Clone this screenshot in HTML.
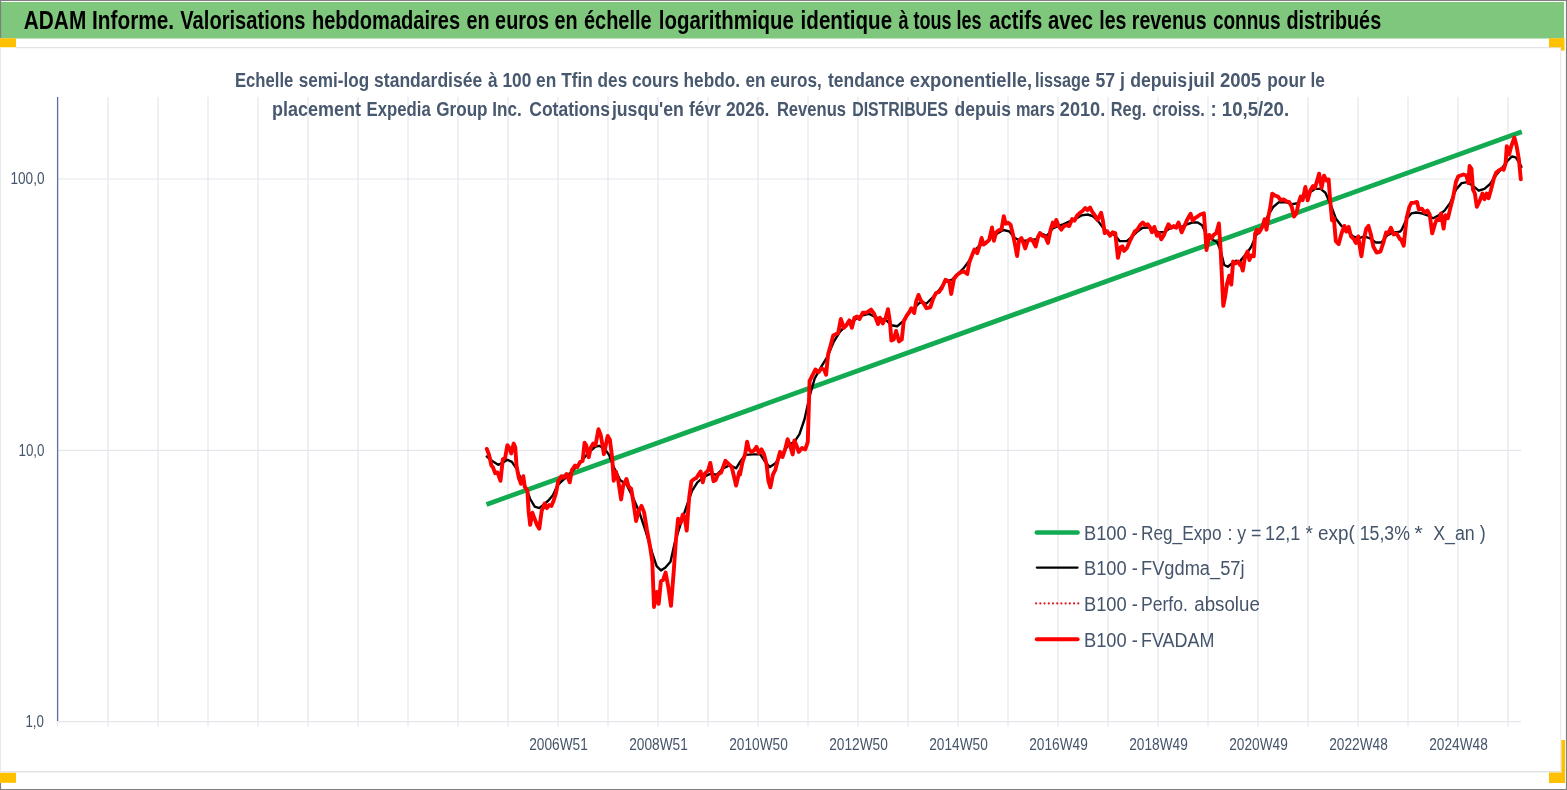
<!DOCTYPE html>
<html lang="fr">
<head>
<meta charset="utf-8">
<title>ADAM Informe - Expedia Group Inc.</title>
<style>
html,body{margin:0;padding:0;background:#fff;}
body{width:1567px;height:790px;overflow:hidden;font-family:"Liberation Sans", sans-serif;}
svg{display:block;}
text{font-family:"Liberation Sans", sans-serif;}
.hd{font-size:25px;font-weight:bold;fill:#000;}
.ct{font-size:19.5px;font-weight:bold;fill:#48586e;}
.ax{font-size:16px;fill:#44546a;}
.axx{font-size:16px;fill:#44546a;}
.lg{font-size:20px;fill:#44546a;}
</style>
</head>
<body>
<svg width="1567" height="790" viewBox="0 0 1567 790">
<rect x="0" y="0" width="1567" height="790" fill="#fff"/>
<rect x="1" y="2" width="1563" height="36.5" fill="#7fc77d"/>
<text class="hd" y="28.8"><tspan x="23.8" textLength="150.3" lengthAdjust="spacingAndGlyphs">ADAM Informe.</tspan> <tspan x="180.3" textLength="125.2" lengthAdjust="spacingAndGlyphs">Valorisations</tspan> <tspan x="311.9" textLength="148.3" lengthAdjust="spacingAndGlyphs">hebdomadaires</tspan> <tspan x="466.5" textLength="111.2" lengthAdjust="spacingAndGlyphs">en euros en</tspan> <tspan x="583.9" textLength="67.8" lengthAdjust="spacingAndGlyphs">échelle</tspan> <tspan x="658.8" textLength="135.1" lengthAdjust="spacingAndGlyphs">logarithmique</tspan> <tspan x="800.6" textLength="91.5" lengthAdjust="spacingAndGlyphs">identique</tspan> <tspan x="898.4" textLength="83.1" lengthAdjust="spacingAndGlyphs">à tous les</tspan> <tspan x="989.3" textLength="103.7" lengthAdjust="spacingAndGlyphs">actifs avec</tspan> <tspan x="1099.3" textLength="107.3" lengthAdjust="spacingAndGlyphs">les revenus</tspan> <tspan x="1212.9" textLength="67.7" lengthAdjust="spacingAndGlyphs">connus</tspan> <tspan x="1286.4" textLength="94.8" lengthAdjust="spacingAndGlyphs">distribués</tspan></text>
<path d="M16,47.6 H1560 M0,771.8 H1561" fill="none" stroke="#e2e3e7" stroke-width="1.4"/>
<line x1="1560.6" y1="47" x2="1560.6" y2="772" stroke="#eaebee" stroke-width="1.3"/>
<rect x="0" y="38.3" width="16" height="9" fill="#ffc000"/>
<path d="M1549,38.3 H1564.5 V50.5 H1561 V47.3 H1549 Z" fill="#ffc000"/>
<rect x="0" y="772.8" width="16" height="10" fill="#ffc000"/>
<path d="M1561.4,740 H1565 V783 H1549 V772.6 H1561.4 Z" fill="#ffc000"/>
<path d="M0.5,38 V0.5 H1566.5 V789.5 H0.5 V783" fill="none" stroke="#7f7f7f" stroke-width="1.2"/>
<line x1="0.5" y1="48" x2="0.5" y2="772" stroke="#e8e8e8" stroke-width="1"/>
<path d="M108.0,97 V726.5 M158.0,97 V726.5 M208.0,97 V726.5 M258.0,97 V726.5 M308.0,97 V726.5 M358.0,97 V726.5 M408.0,97 V726.5 M458.0,97 V726.5 M508.0,97 V726.5 M558.0,97 V726.5 M608.0,97 V726.5 M658.0,97 V726.5 M708.0,97 V726.5 M758.0,97 V726.5 M808.0,97 V726.5 M858.0,97 V726.5 M908.0,97 V726.5 M958.0,97 V726.5 M1008.0,97 V726.5 M1058.0,97 V726.5 M1108.0,97 V726.5 M1158.0,97 V726.5 M1208.0,97 V726.5 M1258.0,97 V726.5 M1308.0,97 V726.5 M1358.0,97 V726.5 M1408.0,97 V726.5 M1458.0,97 V726.5 M1508.0,97 V726.5 M57.5,179 H1521 M57.5,450.3 H1521 M57.5,721.7 H1521" fill="none" stroke="#e4e6eb" stroke-width="1.2"/>
<line x1="57.6" y1="722" x2="57.6" y2="726.5" stroke="#e4e6eb" stroke-width="1.2"/>
<line x1="57.6" y1="97" x2="57.6" y2="721" stroke="#5570a3" stroke-width="1.3"/>
<text class="ct" y="86.6"><tspan x="235.0" textLength="58.3" lengthAdjust="spacingAndGlyphs">Echelle</tspan> <tspan x="298.8" textLength="70.4" lengthAdjust="spacingAndGlyphs">semi-log</tspan> <tspan x="374.1" textLength="108.1" lengthAdjust="spacingAndGlyphs">standardisée</tspan> <tspan x="488.0" textLength="68.3" lengthAdjust="spacingAndGlyphs">à 100 en</tspan> <tspan x="561.3" textLength="65.9" lengthAdjust="spacingAndGlyphs">Tfin des</tspan> <tspan x="631.9" textLength="108.1" lengthAdjust="spacingAndGlyphs">cours hebdo.</tspan> <tspan x="745.5" textLength="76.2" lengthAdjust="spacingAndGlyphs">en euros,</tspan> <tspan x="828.0" textLength="76.7" lengthAdjust="spacingAndGlyphs">tendance</tspan> <tspan x="909.7" textLength="122.4" lengthAdjust="spacingAndGlyphs">exponentielle,</tspan> <tspan x="1035.0" textLength="55.0" lengthAdjust="spacingAndGlyphs">lissage</tspan> <tspan x="1095.5" textLength="29.5" lengthAdjust="spacingAndGlyphs">57 j</tspan> <tspan x="1130.2" textLength="56.8" lengthAdjust="spacingAndGlyphs">depuis</tspan> <tspan x="1188.2" textLength="72.9" lengthAdjust="spacingAndGlyphs">juil 2005</tspan> <tspan x="1267.3" textLength="57.6" lengthAdjust="spacingAndGlyphs">pour le</tspan></text>
<text class="ct" y="115.8"><tspan x="272.0" textLength="89.0" lengthAdjust="spacingAndGlyphs">placement</tspan> <tspan x="366.5" textLength="64.2" lengthAdjust="spacingAndGlyphs">Expedia</tspan> <tspan x="436.2" textLength="85.6" lengthAdjust="spacingAndGlyphs">Group Inc.</tspan> <tspan x="529.3" textLength="80.6" lengthAdjust="spacingAndGlyphs">Cotations</tspan> <tspan x="611.9" textLength="72.0" lengthAdjust="spacingAndGlyphs">jusqu'en</tspan> <tspan x="688.9" textLength="32.0" lengthAdjust="spacingAndGlyphs">févr</tspan> <tspan x="725.9" textLength="43.5" lengthAdjust="spacingAndGlyphs">2026.</tspan> <tspan x="776.9" textLength="69.1" lengthAdjust="spacingAndGlyphs">Revenus</tspan> <tspan x="852.2" textLength="96.0" lengthAdjust="spacingAndGlyphs">DISTRIBUES</tspan> <tspan x="954.6" textLength="56.3" lengthAdjust="spacingAndGlyphs">depuis</tspan> <tspan x="1015.9" textLength="38.9" lengthAdjust="spacingAndGlyphs">mars</tspan> <tspan x="1059.8" textLength="45.5" lengthAdjust="spacingAndGlyphs">2010.</tspan> <tspan x="1110.8" textLength="35.4" lengthAdjust="spacingAndGlyphs">Reg.</tspan> <tspan x="1152.4" textLength="52.5" lengthAdjust="spacingAndGlyphs">croiss.</tspan> <tspan x="1210.4" textLength="78.7" lengthAdjust="spacingAndGlyphs">: 10,5/20.</tspan></text>
<text class="ax" x="10.5" y="184.2" textLength="34" lengthAdjust="spacingAndGlyphs">100,0</text>
<text class="ax" x="18.5" y="455.5" textLength="26" lengthAdjust="spacingAndGlyphs">10,0</text>
<text class="ax" x="25.4" y="726.9" textLength="18.5" lengthAdjust="spacingAndGlyphs">1,0</text>
<text class="axx" x="529.2" y="749.8" textLength="58.6" lengthAdjust="spacingAndGlyphs">2006W51</text>
<text class="axx" x="629.2" y="749.8" textLength="58.6" lengthAdjust="spacingAndGlyphs">2008W51</text>
<text class="axx" x="729.2" y="749.8" textLength="58.6" lengthAdjust="spacingAndGlyphs">2010W50</text>
<text class="axx" x="829.2" y="749.8" textLength="58.6" lengthAdjust="spacingAndGlyphs">2012W50</text>
<text class="axx" x="929.2" y="749.8" textLength="58.6" lengthAdjust="spacingAndGlyphs">2014W50</text>
<text class="axx" x="1029.2" y="749.8" textLength="58.6" lengthAdjust="spacingAndGlyphs">2016W49</text>
<text class="axx" x="1129.2" y="749.8" textLength="58.6" lengthAdjust="spacingAndGlyphs">2018W49</text>
<text class="axx" x="1229.2" y="749.8" textLength="58.6" lengthAdjust="spacingAndGlyphs">2020W49</text>
<text class="axx" x="1329.2" y="749.8" textLength="58.6" lengthAdjust="spacingAndGlyphs">2022W48</text>
<text class="axx" x="1429.2" y="749.8" textLength="58.6" lengthAdjust="spacingAndGlyphs">2024W48</text>
<line x1="486.5" y1="504.5" x2="1521.8" y2="131.8" stroke="#12ab52" stroke-width="4.8"/>
<path d="M486.8,456.5 L492.2,461.0 L498.2,464.8 L502.8,462.6 L507.4,459.8 L511.9,461.8 L516.5,468.6 L521.0,479.3 L525.6,486.9 L530.2,499.0 L534.7,506.6 L539.3,508.1 L543.8,504.3 L548.4,500.5 L552.9,495.2 L557.5,485.3 L562.1,480.8 L566.6,477.0 L571.2,472.4 L577.3,465.6 L583.3,458.8 L589.4,451.9 L595.5,446.6 L599.3,445.8 L604.6,448.9 L609.2,455.0 L613.7,467.1 L618.3,476.2 L620.0,480.1 L626.5,484.4 L632.9,497.3 L639.4,512.4 L645.8,531.7 L652.3,553.2 L656.6,566.1 L660.9,570.4 L665.2,567.8 L670.5,561.8 L674.8,542.5 L680.2,525.3 L686.7,505.9 L692.0,490.9 L697.4,482.3 L703.9,476.9 L710.3,473.7 L716.8,474.7 L723.2,468.3 L729.7,465.1 L736.1,468.3 L740.0,462.0 L745.1,454.9 L752.7,454.4 L760.3,454.4 L765.3,462.0 L769.9,467.1 L775.4,463.3 L781.8,454.4 L788.1,445.6 L794.4,441.8 L799.5,434.2 L804.6,419.0 L809.6,396.2 L814.7,378.5 L821.0,367.1 L827.3,357.0 L833.7,341.8 L840.0,331.6 L846.3,325.3 L853.9,320.3 L861.5,315.7 L869.1,313.9 L876.7,317.7 L880.0,318.7 L885.7,319.6 L891.4,325.3 L897.1,326.3 L902.8,321.5 L908.5,313.0 L914.2,308.2 L919.9,302.5 L926.5,303.5 L933.2,296.8 L938.9,290.2 L945.5,281.6 L952.1,279.7 L957.8,274.0 L963.5,268.4 L969.2,260.8 L974.9,250.3 L980.6,244.6 L986.3,241.8 L992.0,237.0 L997.7,233.2 L1003.4,230.0 L1009.1,231.3 L1014.8,238.0 L1020.5,240.8 L1026.2,240.8 L1031.9,239.9 L1037.6,238.9 L1040.0,233.1 L1047.1,235.8 L1052.4,228.7 L1057.7,226.1 L1063.0,224.3 L1069.2,221.6 L1075.4,219.0 L1081.6,215.4 L1087.8,214.5 L1093.1,216.3 L1098.5,221.6 L1103.8,228.7 L1109.1,233.1 L1114.4,234.9 L1119.7,241.1 L1126.8,241.1 L1132.1,236.7 L1137.4,231.4 L1142.7,227.8 L1148.1,227.5 L1153.4,229.6 L1158.7,232.3 L1164.0,232.3 L1169.3,228.7 L1174.6,226.9 L1181.7,226.9 L1187.0,224.3 L1192.3,222.5 L1197.7,222.5 L1202.1,225.2 L1206.5,234.9 L1211.8,239.3 L1217.1,242.0 L1220.7,250.9 L1224.2,265.0 L1227.8,266.8 L1232.2,263.3 L1236.6,260.6 L1240.0,263.3 L1240.9,260.1 L1246.6,253.5 L1251.3,246.8 L1256.1,235.4 L1261.8,227.8 L1267.5,216.5 L1273.2,207.0 L1278.9,202.2 L1285.5,202.2 L1292.1,204.1 L1297.8,203.2 L1303.5,197.5 L1309.2,192.7 L1314.9,188.9 L1320.6,188.9 L1325.4,192.7 L1330.1,203.2 L1335.8,218.4 L1341.5,225.9 L1347.2,230.7 L1352.9,236.4 L1358.6,238.3 L1364.3,236.4 L1370.0,238.3 L1375.7,242.5 L1381.4,242.5 L1387.1,235.4 L1392.8,232.6 L1400.0,231.6 L1401.8,229.6 L1406.6,219.1 L1411.3,213.4 L1416.1,212.5 L1421.8,213.4 L1427.4,215.3 L1433.1,218.2 L1438.8,215.3 L1444.5,210.6 L1450.2,203.0 L1455.9,189.7 L1461.6,183.1 L1467.3,182.1 L1473.0,185.9 L1478.7,190.7 L1484.4,188.8 L1490.1,184.0 L1495.8,175.5 L1501.5,168.8 L1507.2,161.2 L1511.9,156.5 L1515.7,157.4 L1519.5,163.1 L1521.4,166.9" fill="none" stroke="#000" stroke-width="2.4" stroke-linejoin="round" stroke-linecap="round"/>
<path d="M486.8,448.9 L489.1,455.0 L491.4,465.6 L492.9,467.1 L495.2,473.2 L497.5,472.4 L500.5,480.8 L502.8,459.5 L505.1,458.0 L507.4,445.1 L509.6,448.1 L511.2,453.4 L513.7,443.6 L515.3,447.4 L516.5,465.6 L518.8,477.8 L521.0,483.8 L523.3,476.2 L524.8,486.9 L527.4,490.7 L528.6,511.2 L530.2,524.9 L532.4,512.7 L534.0,517.3 L537.0,524.9 L539.3,528.7 L541.6,511.2 L544.6,503.6 L546.9,508.1 L549.1,505.1 L551.4,505.9 L553.7,500.5 L556.0,492.9 L558.3,480.8 L561.3,476.2 L563.6,477.8 L566.6,474.0 L569.7,482.3 L571.9,470.2 L575.0,465.6 L577.3,467.1 L580.3,461.8 L582.6,461.0 L584.6,442.8 L586.4,445.8 L588.7,457.2 L590.9,447.4 L593.2,443.6 L595.5,445.1 L598.5,429.1 L600.8,435.2 L603.9,454.2 L607.7,436.0 L609.9,439.8 L612.2,458.0 L613.7,480.8 L616.0,471.7 L618.3,480.8 L621.1,499.5 L623.2,485.5 L626.5,479.0 L628.6,486.6 L631.2,488.7 L633.3,501.6 L636.1,521.0 L638.9,510.2 L641.5,505.9 L644.1,512.4 L646.9,529.6 L650.1,546.8 L652.3,561.8 L654.0,607.0 L656.6,591.9 L658.7,603.8 L660.9,581.2 L663.0,580.1 L665.6,572.6 L668.4,587.6 L671.0,605.9 L673.8,570.4 L675.9,540.3 L678.1,518.8 L680.6,523.1 L682.8,514.5 L684.5,516.7 L686.7,530.6 L689.2,497.3 L691.4,481.2 L694.2,479.0 L696.3,478.0 L698.5,474.7 L700.6,471.5 L702.8,482.3 L704.9,473.7 L708.2,470.4 L710.3,462.9 L713.5,481.2 L715.7,480.1 L717.8,474.7 L721.1,472.6 L725.4,460.8 L728.6,464.0 L731.8,467.2 L736.1,485.5 L739.4,471.5 L740.0,474.7 L742.5,462.0 L745.1,454.4 L747.1,441.8 L748.9,449.4 L751.4,451.9 L753.9,450.6 L756.5,446.8 L759.0,453.2 L761.5,449.4 L764.1,454.4 L766.6,464.6 L768.4,481.0 L770.4,487.3 L772.9,474.7 L775.4,469.6 L778.0,459.5 L780.0,451.9 L782.5,457.0 L785.1,449.4 L787.6,439.2 L790.1,445.6 L792.7,454.4 L794.4,440.5 L797.0,446.8 L798.7,451.9 L802.0,448.1 L805.3,449.4 L807.8,441.8 L809.6,381.0 L812.2,375.9 L815.4,369.6 L818.5,372.2 L821.5,368.4 L824.1,369.6 L826.1,374.7 L828.1,354.4 L830.6,345.6 L833.2,335.4 L835.7,334.2 L838.2,332.9 L840.8,319.0 L843.8,327.8 L846.3,325.3 L849.4,320.3 L851.9,327.8 L854.4,317.7 L857.0,316.5 L859.5,319.0 L862.8,312.7 L866.6,312.7 L871.1,309.6 L874.2,313.9 L878.0,324.1 L880.0,317.7 L882.8,323.4 L885.7,317.7 L888.0,309.2 L889.9,321.5 L891.4,340.5 L893.7,339.5 L896.1,331.0 L899.0,341.4 L901.8,339.5 L903.7,321.5 L906.6,315.8 L909.4,312.0 L911.3,308.2 L914.2,313.0 L916.1,301.6 L918.5,294.9 L920.8,300.6 L923.7,303.5 L926.5,308.2 L930.3,307.3 L933.2,298.7 L936.0,293.0 L938.9,292.1 L941.7,288.3 L945.5,279.7 L949.3,281.6 L951.2,294.0 L954.0,278.8 L956.9,275.0 L959.7,273.1 L963.5,271.2 L967.3,274.0 L969.2,262.7 L972.1,255.1 L974.4,249.4 L977.2,253.2 L979.7,245.6 L981.6,238.0 L983.5,244.6 L986.3,242.7 L989.2,239.9 L992.0,227.5 L993.9,240.8 L996.2,232.3 L998.7,230.4 L1001.5,229.4 L1003.8,216.1 L1005.7,223.7 L1008.2,222.8 L1010.6,224.7 L1012.9,234.2 L1015.2,245.6 L1017.1,256.0 L1019.0,240.8 L1021.4,238.0 L1023.3,242.7 L1025.2,248.4 L1027.7,240.8 L1030.4,238.9 L1032.8,240.8 L1035.7,246.5 L1038.0,237.0 L1040.0,233.1 L1042.7,235.8 L1045.3,236.7 L1048.0,242.9 L1050.6,229.6 L1052.8,222.5 L1054.5,226.1 L1056.3,219.9 L1058.6,226.1 L1061.3,229.6 L1063.9,226.1 L1066.6,225.2 L1069.2,226.1 L1072.2,219.0 L1074.5,220.7 L1077.2,215.4 L1079.9,212.8 L1082.5,211.0 L1085.2,208.0 L1087.5,210.1 L1090.0,207.5 L1092.3,211.9 L1094.9,215.4 L1097.6,219.9 L1101.1,212.8 L1102.9,220.7 L1104.7,233.1 L1107.3,231.4 L1110.0,235.8 L1112.6,232.3 L1115.3,233.1 L1117.9,257.9 L1120.6,247.3 L1122.4,246.4 L1124.1,250.9 L1126.8,248.2 L1129.5,242.0 L1132.1,236.7 L1134.8,231.4 L1137.4,229.6 L1140.1,225.2 L1142.7,222.5 L1145.4,225.2 L1147.7,224.3 L1149.8,226.9 L1152.0,232.3 L1154.3,226.9 L1156.9,235.8 L1159.0,233.1 L1161.3,239.3 L1164.0,234.9 L1166.1,229.6 L1168.4,224.3 L1171.1,227.8 L1173.7,226.1 L1176.0,227.8 L1178.5,222.5 L1181.7,232.3 L1184.4,226.1 L1187.0,219.9 L1190.6,213.7 L1192.7,220.7 L1195.0,218.1 L1197.7,216.3 L1200.3,214.5 L1203.9,213.3 L1205.1,229.6 L1206.5,250.0 L1209.2,234.9 L1211.5,238.5 L1213.6,234.9 L1216.3,233.1 L1218.9,223.4 L1220.7,250.9 L1222.5,289.8 L1223.3,305.8 L1225.1,296.9 L1226.9,284.5 L1229.2,275.7 L1231.3,284.5 L1233.1,261.5 L1235.7,263.3 L1238.4,261.5 L1240.0,265.0 L1240.9,263.9 L1242.8,270.6 L1245.1,256.3 L1247.5,251.6 L1249.4,260.1 L1251.3,255.4 L1253.8,256.3 L1255.1,233.5 L1257.0,229.7 L1258.9,232.6 L1260.8,229.7 L1262.7,225.9 L1264.6,219.3 L1266.5,229.7 L1268.4,216.5 L1270.3,207.0 L1272.2,193.7 L1275.1,195.6 L1277.9,196.5 L1280.8,200.3 L1283.6,199.4 L1286.5,201.3 L1289.3,202.2 L1291.8,207.0 L1294.0,216.5 L1296.3,213.6 L1298.8,202.2 L1300.7,196.5 L1302.6,200.3 L1305.4,187.0 L1307.7,200.3 L1310.2,190.8 L1313.0,186.1 L1314.9,188.0 L1317.2,180.4 L1319.1,173.7 L1321.6,188.0 L1324.0,175.6 L1326.3,180.4 L1328.6,179.4 L1330.1,199.4 L1332.0,220.2 L1333.9,218.4 L1335.8,241.1 L1338.7,244.0 L1341.5,233.5 L1344.4,225.9 L1346.3,231.6 L1348.7,226.9 L1351.0,236.4 L1353.9,239.2 L1355.8,243.0 L1358.2,236.4 L1361.4,256.3 L1363.9,239.2 L1366.2,228.8 L1368.5,225.9 L1370.9,234.5 L1373.4,246.8 L1376.6,252.5 L1380.4,251.6 L1383.3,243.0 L1386.1,232.6 L1388.0,233.5 L1390.9,227.8 L1393.7,234.5 L1396.6,233.5 L1400.0,239.2 L1400.9,239.1 L1403.7,245.7 L1406.6,218.2 L1409.4,206.8 L1411.3,203.0 L1414.2,202.6 L1417.0,202.0 L1418.9,209.6 L1421.8,208.7 L1424.6,212.5 L1427.4,210.6 L1429.7,214.4 L1432.2,233.4 L1435.0,223.9 L1436.9,219.1 L1439.2,220.1 L1441.1,213.4 L1443.6,228.6 L1445.5,215.3 L1447.9,218.2 L1450.2,208.7 L1453.1,197.3 L1455.9,182.1 L1458.2,176.4 L1460.7,175.5 L1463.5,174.5 L1466.4,175.5 L1468.3,183.1 L1469.6,166.0 L1471.5,168.8 L1473.0,189.7 L1474.9,193.5 L1476.8,206.8 L1479.6,201.1 L1482.5,193.5 L1484.4,199.2 L1486.7,193.5 L1488.6,198.3 L1491.0,189.7 L1493.9,178.3 L1496.2,172.6 L1498.6,170.7 L1501.5,168.8 L1503.7,169.8 L1505.6,163.1 L1506.8,146.1 L1509.1,154.6 L1511.3,146.1 L1514.4,137.5 L1516.6,146.1 L1518.9,159.3 L1520.8,179.3" fill="none" stroke="#f00" stroke-width="3.9" stroke-linejoin="round" stroke-linecap="round"/>
<line x1="1036.8" y1="532.4" x2="1077.6" y2="532.4" stroke="#12ab52" stroke-width="4.5" stroke-linecap="round"/>
<line x1="1036.8" y1="567.6" x2="1077.6" y2="567.6" stroke="#000" stroke-width="2.2" stroke-linecap="round"/>
<line x1="1036.1" y1="603.4" x2="1079" y2="603.4" stroke="#e31a1a" stroke-width="2.2" stroke-linecap="round" stroke-dasharray="0.01,4.21"/>
<line x1="1036.8" y1="639.3" x2="1077.6" y2="639.3" stroke="#f00" stroke-width="4" stroke-linecap="round"/>
<text class="lg" y="539.7"><tspan x="1084.0" textLength="53.9" lengthAdjust="spacingAndGlyphs">B100 -</tspan> <tspan x="1141.0" textLength="80.5" lengthAdjust="spacingAndGlyphs">Reg_Expo</tspan> <tspan x="1227.4" textLength="34.0" lengthAdjust="spacingAndGlyphs">: y =</tspan> <tspan x="1265.1" textLength="35.2" lengthAdjust="spacingAndGlyphs">12,1</tspan> <tspan x="1305.5" textLength="49.3" lengthAdjust="spacingAndGlyphs">* exp(</tspan> <tspan x="1359.7" textLength="50.2" lengthAdjust="spacingAndGlyphs">15,3%</tspan> <tspan x="1414.3" textLength="8.5" lengthAdjust="spacingAndGlyphs">*</tspan> <tspan x="1433.2" textLength="52.4" lengthAdjust="spacingAndGlyphs">X_an )</tspan></text>
<text class="lg" y="574.9"><tspan x="1084.0" textLength="53.9" lengthAdjust="spacingAndGlyphs">B100 -</tspan> <tspan x="1141.0" textLength="103.5" lengthAdjust="spacingAndGlyphs">FVgdma_57j</tspan></text>
<text class="lg" y="610.6"><tspan x="1084.0" textLength="53.9" lengthAdjust="spacingAndGlyphs">B100 -</tspan> <tspan x="1141.0" textLength="46.9" lengthAdjust="spacingAndGlyphs">Perfo.</tspan> <tspan x="1194.3" textLength="65.5" lengthAdjust="spacingAndGlyphs">absolue</tspan></text>
<text class="lg" y="646.6"><tspan x="1084.0" textLength="53.9" lengthAdjust="spacingAndGlyphs">B100 -</tspan> <tspan x="1141.0" textLength="73.5" lengthAdjust="spacingAndGlyphs">FVADAM</tspan></text>
</svg>
</body>
</html>
